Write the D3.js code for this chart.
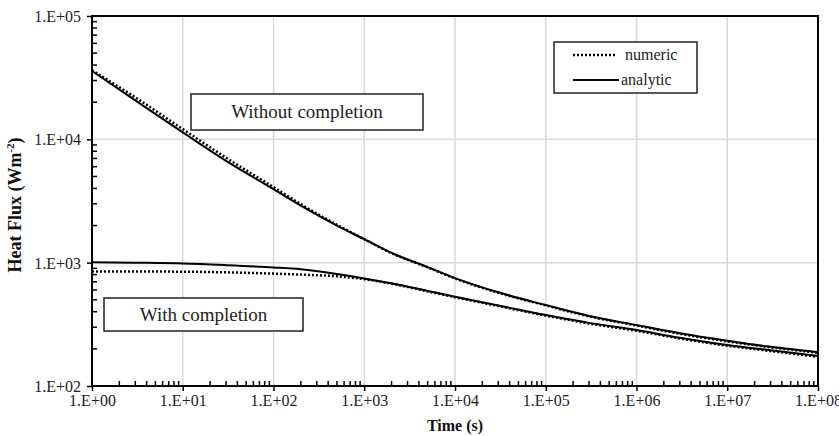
<!DOCTYPE html>
<html>
<head>
<meta charset="utf-8">
<script src="https://cdn.jsdelivr.net/npm/d3@7"></script>
<style>
  body { margin: 0; background: #fff; }
  svg { display: block; }
  svg text { font-family: "Liberation Serif", serif; }
</style>
</head>
<body>
<div id="chart"></div>
<script>
// time axis (s)
var times = [1, 3, 10, 30, 100, 200, 500, 1e3, 2e3, 5e3, 1e4, 3e4, 1e5, 3e5, 1e6, 3e6, 1e7, 3e7, 1e8];

// heat flux (W/m2)
var analyticWithout = [35800, 20700, 11400, 6700, 3950, 2900, 2000, 1550, 1200, 920, 750, 575, 453, 370, 312, 268, 233, 208, 188];
var numericWithout  = [36300, 21900, 12100, 7100, 4100, 2980, 2030, 1550, 1195, 915, 745, 570, 450, 367, 309, 265, 230, 206, 186];
var analyticWith    = [1010, 1000, 985, 955, 915, 885, 810, 745, 680, 590, 530, 450, 376, 325, 284, 246, 215, 195, 175];
var numericWith     = [850, 848, 845, 835, 815, 800, 775, 735, 675, 585, 525, 445, 372, 321, 280, 243, 212, 192, 172];

var xTicks = [1, 1e1, 1e2, 1e3, 1e4, 1e5, 1e6, 1e7, 1e8];
var yTicks = [1e2, 1e3, 1e4, 1e5];

var serif = "Liberation Serif";
var width = 839, height = 436;
var margin = {top: 16, right: 21, bottom: 50, left: 92};
var innerW = width - margin.left - margin.right,
    innerH = height - margin.top - margin.bottom;

var svg = d3.select("#chart").append("svg")
    .attr("width", width)
    .attr("height", height)
    .attr("font-family", serif);

var g = svg.append("g").attr("transform", "translate(" + margin.left + "," + margin.top + ")");

var x = d3.scaleLog().domain([1, 1e8]).range([0, innerW]);
var y = d3.scaleLog().domain([1e2, 1e5]).range([innerH, 0]);

var fmt = function(d){ return "1.E+" + d3.format("02d")(Math.round(Math.log10(d))); };

// gridlines
g.append("g").selectAll("line").data(xTicks.slice(1, -1)).enter().append("line")
    .attr("x1", function(d){ return x(d); }).attr("x2", function(d){ return x(d); })
    .attr("y1", 0).attr("y2", innerH)
    .attr("stroke", "#d9d9d9").attr("stroke-width", 1.5);
g.append("g").selectAll("line").data(yTicks.slice(1, -1)).enter().append("line")
    .attr("y1", function(d){ return y(d); }).attr("y2", function(d){ return y(d); })
    .attr("x1", 0).attr("x2", innerW)
    .attr("stroke", "#d9d9d9").attr("stroke-width", 1.5);

// minor ticks (inside)
var xMinor = [], yMinor = [];
xTicks.slice(0, -1).forEach(function(d){ for (var k = 2; k < 10; k++) xMinor.push(d * k); });
yTicks.slice(0, -1).forEach(function(d){ for (var k = 2; k < 10; k++) yMinor.push(d * k); });

var xAxis = d3.axisBottom(x).tickValues(xTicks).tickFormat(fmt).tickSize(5).tickPadding(4);
var yAxis = d3.axisLeft(y).tickValues(yTicks).tickFormat(fmt).tickSize(5).tickPadding(6);

var xg = g.append("g").attr("transform", "translate(0," + innerH + ")").call(xAxis);
var yg = g.append("g").call(yAxis);
[xg, yg].forEach(function(a){
    a.attr("font-family", serif).attr("font-size", 16);
    a.select(".domain").remove();
    a.selectAll("line").attr("stroke", "#000").attr("stroke-width", 1.5);
    a.selectAll("text").attr("fill", "#222").attr("font-size", 16);
});
yg.selectAll("text").attr("dy", "0.35em");

g.append("g").selectAll("line").data(xMinor).enter().append("line")
    .attr("x1", function(d){ return x(d); }).attr("x2", function(d){ return x(d); })
    .attr("y1", innerH).attr("y2", innerH - 5)
    .attr("stroke", "#000").attr("stroke-width", 1.5);
g.append("g").selectAll("line").data(yMinor).enter().append("line")
    .attr("y1", function(d){ return y(d); }).attr("y2", function(d){ return y(d); })
    .attr("x1", 0).attr("x2", 5)
    .attr("stroke", "#000").attr("stroke-width", 1.5);

// frame
g.append("rect").attr("width", innerW).attr("height", innerH)
    .attr("fill", "none").attr("stroke", "#000").attr("stroke-width", 2);

// curves
var line = d3.line()
    .x(function(d){ return x(d[0]); })
    .y(function(d){ return y(d[1]); })
    .curve(d3.curveMonotoneX);

var series = [
    {v: analyticWithout, dash: null},
    {v: analyticWith, dash: null},
    {v: numericWithout, dash: "2,2"},
    {v: numericWith, dash: "2,2"}
];
series.forEach(function(s){
    g.append("path")
        .datum(d3.zip(times, s.v))
        .attr("d", line)
        .attr("fill", "none")
        .attr("stroke", "#000")
        .attr("stroke-width", s.dash ? 2.5 : 2)
        .attr("stroke-dasharray", s.dash);
});

// annotation boxes
function labelBox(x0, y0, w, h, text){
    svg.append("rect").attr("x", x0).attr("y", y0).attr("width", w).attr("height", h)
        .attr("fill", "#fff").attr("stroke", "#222").attr("stroke-width", 1.5);
    svg.append("text").attr("x", x0 + w / 2).attr("y", y0 + h / 2 + 6)
        .attr("text-anchor", "middle").attr("font-family", serif)
        .attr("font-size", 19).attr("fill", "#222").text(text);
}
labelBox(191, 94, 232, 36, "Without completion");
labelBox(104, 298, 199, 33, "With completion");

// legend
var leg = svg.append("g");
leg.append("rect").attr("x", 554).attr("y", 42).attr("width", 143).attr("height", 51)
    .attr("fill", "#fff").attr("stroke", "#222").attr("stroke-width", 1.5);
leg.append("line").attr("x1", 573).attr("x2", 617).attr("y1", 55).attr("y2", 55)
    .attr("stroke", "#000").attr("stroke-width", 2.5).attr("stroke-dasharray", "2,2");
leg.append("line").attr("x1", 573).attr("x2", 619).attr("y1", 80).attr("y2", 80)
    .attr("stroke", "#000").attr("stroke-width", 2);
leg.append("text").attr("x", 625).attr("y", 60).attr("font-family", serif)
    .attr("font-size", 16).attr("fill", "#222").text("numeric");
leg.append("text").attr("x", 621).attr("y", 85).attr("font-family", serif)
    .attr("font-size", 16).attr("fill", "#222").text("analytic");

// axis titles
svg.append("text").attr("x", margin.left + innerW / 2).attr("y", 431)
    .attr("text-anchor", "middle").attr("font-family", serif).attr("font-weight", "bold")
    .attr("font-size", 16).attr("fill", "#111")
    .text("Time (s)");
var yt = svg.append("text").attr("transform", "translate(21,205) rotate(-90)")
    .attr("text-anchor", "middle").attr("font-family", serif).attr("font-weight", "bold")
    .attr("font-size", 18).attr("fill", "#111");
yt.append("tspan").text("Heat Flux (Wm");
yt.append("tspan").attr("dy", -7).attr("font-size", 11).text("-2");
yt.append("tspan").attr("dy", 7).text(")");
</script>
</body>
</html>
